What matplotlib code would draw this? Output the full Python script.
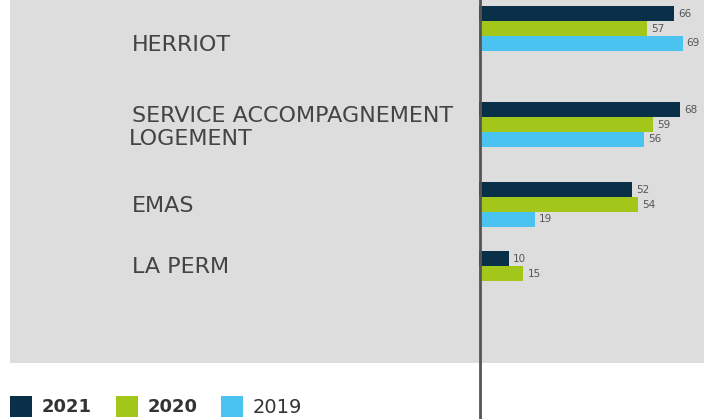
import matplotlib
matplotlib.use("Agg")
import matplotlib.pyplot as plt
from matplotlib.patches import Rectangle
from matplotlib.lines import Line2D

categories = ["HERRIOT", "SERVICE ACCOMPAGNEMENT\nLOGEMENT", "EMAS", "LA PERM"]
years = ["2021", "2020", "2019"]
values_2021 = [66, 68, 52, 10]
values_2020 = [57, 59, 54, 15]
values_2019 = [69, 56, 19, None]
colors = ["#0a3049", "#a3c61a", "#4bc3f0"]

W, H = 704, 419
fig = plt.figure(figsize=(W / 100, H / 100), dpi=100)
fig.patch.set_facecolor("white")

# fond gris
fig.add_artist(Rectangle((10 / W, 1 - 363 / H), 694 / W, 363 / H,
                         transform=fig.transFigure, facecolor="#dddddd",
                         edgecolor="none", zorder=0))

# axe des barres (coordonnees y en pixels)
ax = fig.add_axes([479 / W, 1 - 363 / H, (W - 479) / W, 363 / H])
ax.set_facecolor("none")
ax.set_xlim(0, (W - 479) / 2.95)
ax.set_ylim(363, 0)
ax.axis("off")

group_y = [28.5, 124.5, 204.5, 273.5]
bar_h = 14.7
series = [values_2021, values_2020, values_2019]
for i, vals in enumerate(series):
    for gy, v in zip(group_y, vals):
        if v is None:
            continue
        y = gy + (i - 1) * bar_h
        ax.barh(y, v, height=bar_h, color=colors[i], zorder=2)
        ax.annotate(str(v), (v, y), xytext=(3, 0), textcoords="offset points",
                    va="center", ha="left", fontsize=7.5, color="#555555")

# ligne verticale
fig.add_artist(Line2D([479.5 / W, 479.5 / W], [0, 1], transform=fig.transFigure,
                      color="#555555", linewidth=2, zorder=5))

# libelles des categories
label_pos = [(132, 45), (132, 116), (132, 206), (132, 267)]
for lab, (x, y) in zip(categories, label_pos):
    lines = lab.split("\n")
    for k, line in enumerate(lines):
        fig.text(x / W - (0.005 if k else 0), 1 - (y + k * 23) / H, line,
                 fontsize=16, color="#444444", va="center", ha="left")

# legende
leg_x = [10, 116, 221]
for x, yr, c in zip(leg_x, years, colors):
    fig.add_artist(Rectangle((x / W, 1 - 417 / H), 22 / W, 21 / H,
                             transform=fig.transFigure, facecolor=c,
                             edgecolor="none"))
    bold = yr != "2019"
    fig.text((x + 32) / W, 1 - 407 / H, yr, fontsize=13 if bold else 14,
             color="#333333", va="center", ha="left",
             fontweight="bold" if bold else "normal")

fig.savefig("out.png", dpi=100)
